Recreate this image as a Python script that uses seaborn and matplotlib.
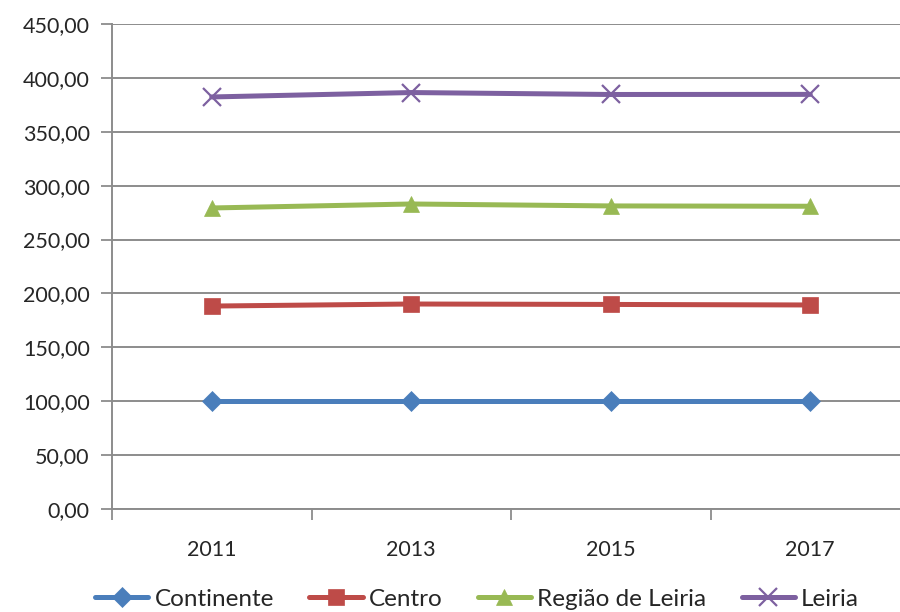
import matplotlib
matplotlib.use("Agg")
import matplotlib.pyplot as plt
import seaborn as sns
import pandas as pd
from matplotlib.ticker import FuncFormatter, FixedLocator

years = ["2011", "2013", "2015", "2017"]
continente = [100.0, 100.0, 100.0, 100.0]
centro = [188.3, 190.2, 189.8, 189.3]
regiao_leiria = [279.3, 283.0, 281.2, 280.9]
leiria = [382.3, 386.4, 384.6, 384.7]

series_names = ["Continente", "Centro", "Região de Leiria", "Leiria"]
series_values = [continente, centro, regiao_leiria, leiria]
colors = ["#4a7ebb", "#be4b48", "#98b954", "#7d60a0"]
markers = ["D", "s", "^", "x"]
msizes = [10, 12, 12, 13]

rows = []
for name, vals in zip(series_names, series_values):
    for i, (y, v) in enumerate(zip(years, vals)):
        rows.append({"pos": i, "ano": y, "serie": name, "valor": v})
df = pd.DataFrame(rows)

sns.set_style("white")
plt.rcParams["font.family"] = ["Lato", "DejaVu Sans"]

fig = plt.figure(figsize=(9, 6.12), dpi=100)
ax = fig.add_axes([112 / 900, 1 - 509 / 612, 798 / 900, 485 / 612])

for name, c, m, ms in zip(series_names, colors, markers, msizes):
    sub = df[df["serie"] == name]
    sns.lineplot(data=sub, x="pos", y="valor", ax=ax, color=c, lw=3.6,
                 marker=m, markersize=ms, markeredgecolor=c,
                 markeredgewidth=1.6 if m == "x" else 0.5,
                 label=name, zorder=3)

ax.set_xlim(-0.5, 3.5)
ax.set_ylim(0, 450)
ax.set_yticks(range(0, 451, 50))
ax.yaxis.set_major_formatter(FuncFormatter(lambda v, p: f"{v:.2f}".replace(".", ",")))
ax.xaxis.set_major_locator(FixedLocator([-0.5, 0.5, 1.5, 2.5, 3.5]))
ax.xaxis.set_minor_locator(FixedLocator([0, 1, 2, 3]))
ax.set_xticklabels([])
ax.set_xticklabels(years, minor=True)
ax.tick_params(axis="x", which="major", length=8, width=1.3, color="#8c8c8c", direction="out", bottom=True)
ax.tick_params(axis="x", which="minor", length=0, pad=22, labelsize=15.5)
ax.tick_params(axis="y", length=8, width=1.3, color="#8c8c8c", direction="out", left=True, labelsize=15.5, pad=8)
ax.set_xlabel("")
ax.set_ylabel("")
ax.grid(axis="y", color="#8c8c8c", lw=1.4, zorder=0)
for s in ["top", "right"]:
    ax.spines[s].set_visible(False)
for s in ["left", "bottom"]:
    ax.spines[s].set_color("#8c8c8c")
    ax.spines[s].set_linewidth(1.4)

handles, labels = ax.get_legend_handles_labels()
ax.get_legend().remove()
fig.legend(handles, labels, loc="lower center", bbox_to_anchor=(0.53, -0.032), ncol=4,
           frameon=False, fontsize=17.5, handlelength=2.2, columnspacing=1.45,
           handletextpad=0.25)

fig.savefig("out.png", dpi=100)
